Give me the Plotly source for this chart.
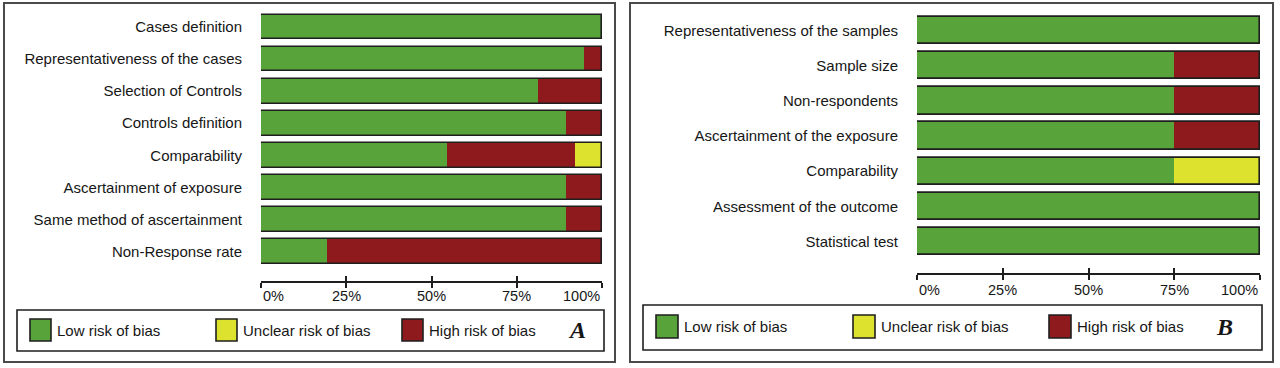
import plotly.graph_objects as go

W, H = 1280, 368

# ---------------- data ----------------
cats_a = ["Cases definition", "Representativeness of the cases", "Selection of Controls",
          "Controls definition", "Comparability", "Ascertainment of exposure",
          "Same method of ascertainment", "Non-Response rate"]
low_a = [100, 94.7, 81.3, 89.4, 54.5, 89.4, 89.4, 19.4]
high_a = [0, 5.3, 18.7, 10.6, 37.6, 10.6, 10.6, 80.6]
unclear_a = [0, 0, 0, 0, 7.9, 0, 0, 0]

cats_b = ["Representativeness of the samples", "Sample size", "Non-respondents",
          "Ascertainment of the exposure", "Comparability", "Assessment of the outcome",
          "Statistical test"]
low_b = [100, 75, 75, 75, 75, 100, 100]
high_b = [0, 25, 25, 25, 0, 0, 0]
unclear_b = [0, 0, 0, 0, 25, 0, 0]

tick_vals = [0, 25, 50, 75, 100]
tick_text = ["0%", "25%", "50%", "75%", "100%"]

legend_labels = ["Low risk of bias", "Unclear risk of bias", "High risk of bias"]
panel_letters = ["A", "B"]

# ---------------- style ----------------
GREEN = "#58A33A"
YELLOW = "#DCE22E"
RED = "#8E1A1E"
EDGE = "#1e1e1e"
TXT = "#161616"
FONT = "Liberation Sans, Arial, sans-serif"
legend_colors = [GREEN, YELLOW, RED]

def px_x(x):
    return x / W

def px_y(y):
    return 1 - y / H

fig = go.Figure()

def add_panel(cats, low, high, unclear, xa, ya, xo, width):
    base_red = low
    base_yel = [l + h for l, h in zip(low, high)]
    total = [l + h + u for l, h, u in zip(low, high, unclear)]
    common = dict(orientation="h", y=cats, width=width, xaxis=xa, yaxis=ya,
                  showlegend=False, hoverinfo="skip")
    fig.add_trace(go.Bar(x=low, base=[0] * len(cats), marker=dict(color=GREEN, line=dict(width=0)), **common))
    fig.add_trace(go.Bar(x=high, base=base_red, marker=dict(color=RED, line=dict(width=0)), **common))
    fig.add_trace(go.Bar(x=unclear, base=base_yel, marker=dict(color=YELLOW, line=dict(width=0)), **common))
    c2 = dict(common)
    c2["xaxis"] = xo
    fig.add_trace(go.Bar(x=total, base=[0] * len(cats),
                         marker=dict(color="rgba(0,0,0,0)", line=dict(color=EDGE, width=1.6)), **c2))

add_panel(cats_a, low_a, high_a, unclear_a, "x", "y", "x3", 0.77)
add_panel(cats_b, low_b, high_b, unclear_b, "x2", "y2", "x4", 0.78)

# panel geometry (pixels)
A = dict(x0=261, x1=602, ytop=11, ybot=267.5, axis=282, lab=296)
B = dict(x0=917, x1=1260, ytop=12.9, ybot=259.1, axis=274, lab=290)

def xaxis_main(p):
    return dict(domain=[px_x(p["x0"]), px_x(p["x1"])], range=[0, 100], anchor="free",
                position=px_y(p["axis"]), showgrid=False, zeroline=False, showline=True,
                linecolor=EDGE, linewidth=1.6, ticks="inside", ticklen=5, tickwidth=1.6,
                tickcolor=EDGE, tickvals=tick_vals, showticklabels=False, fixedrange=True)

def xaxis_over(p, base):
    d = xaxis_main(p)
    d.update(overlaying=base, ticks="outside")
    return d

def yaxis(p, n, xa):
    return dict(domain=[px_y(p["ybot"]), px_y(p["ytop"])], range=[n - 0.5, -0.5],
                anchor=xa, showgrid=False, zeroline=False, showline=False, ticks="",
                ticklabelstandoff=18, tickfont=dict(family=FONT, size=15, color=TXT),
                fixedrange=True)

fig.update_layout(
    width=W, height=H, margin=dict(l=0, r=0, t=0, b=0),
    paper_bgcolor="white", plot_bgcolor="rgba(0,0,0,0)",
    barmode="overlay", bargap=0,
    xaxis=xaxis_main(A), xaxis3=xaxis_over(A, "x"),
    xaxis2=xaxis_main(B), xaxis4=xaxis_over(B, "x2"),
    yaxis=yaxis(A, len(cats_a), "x"),
    yaxis2=yaxis(B, len(cats_b), "x2"),
)

shapes = []
annotations = []

# tick labels
for xa, p in (("x", A), ("x2", B)):
    for i, (v, t) in enumerate(zip(tick_vals, tick_text)):
        anchor = "left" if i == 0 else ("right" if i == len(tick_vals) - 1 else "center")
        annotations.append(dict(x=v, xref=xa, y=px_y(p["lab"]), yref="paper", text=t,
                                showarrow=False, xanchor=anchor, yanchor="middle",
                                font=dict(family=FONT, size=14.5, color=TXT)))

# outer frames
for fx0, fx1 in ((4, 615), (630, 1273)):
    shapes.append(dict(type="rect", xref="paper", yref="paper", x0=px_x(fx0), x1=px_x(fx1),
                       y0=px_y(362), y1=px_y(3), line=dict(color="#4a4a4a", width=2)))

# legend boxes
legends = [
    dict(box=(17, 604, 310, 351), sw=[30, 216, 402], sww=21, swy=(319, 341), letter_x=577),
    dict(box=(643, 1262, 305, 350), sw=[656, 853, 1049], sww=22, swy=(315, 338), letter_x=1224),
]
for k, lg in enumerate(legends):
    bx0, bx1, by0, by1 = lg["box"]
    shapes.append(dict(type="rect", xref="paper", yref="paper", x0=px_x(bx0), x1=px_x(bx1),
                       y0=px_y(by1), y1=px_y(by0), line=dict(color=EDGE, width=1.6)))
    sy0, sy1 = lg["swy"]
    yc = (sy0 + sy1) / 2
    for sx, lab, col in zip(lg["sw"], legend_labels, legend_colors):
        shapes.append(dict(type="rect", xref="paper", yref="paper", x0=px_x(sx),
                           x1=px_x(sx + lg["sww"]), y0=px_y(sy1), y1=px_y(sy0),
                           fillcolor=col, line=dict(color=EDGE, width=1.6)))
        annotations.append(dict(x=px_x(sx + lg["sww"] + 4), y=px_y(yc), xref="paper", yref="paper",
                                text=lab, showarrow=False, xanchor="left", yanchor="middle",
                                font=dict(family=FONT, size=15, color=TXT)))
    annotations.append(dict(x=px_x(lg["letter_x"]), y=px_y(yc), xref="paper", yref="paper",
                            text="<b><i>" + panel_letters[k] + "</i></b>", showarrow=False,
                            xanchor="center", yanchor="middle",
                            font=dict(family="Liberation Serif, Times New Roman, serif",
                                      size=24, color=TXT)))

fig.update_layout(shapes=shapes, annotations=annotations)

fig.write_html("out.html", config={"displayModeBar": False},
               post_script="document.body.style.margin='0';")
